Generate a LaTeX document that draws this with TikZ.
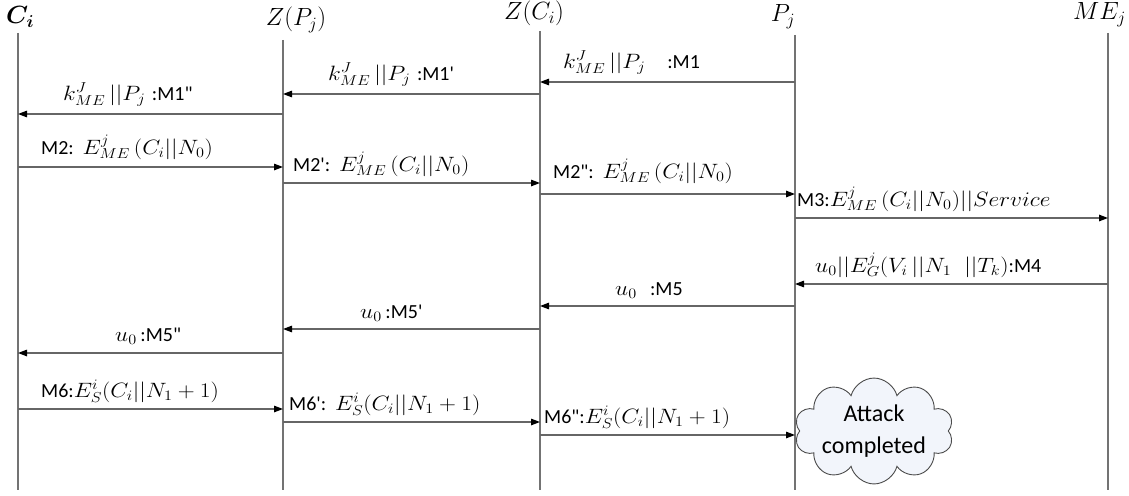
\documentclass[tikz,border=0pt]{standalone}
\usepackage[no-math]{fontspec}
\usepackage{bm}
\usepackage{graphicx}
\newfontfamily\calib{Carlito}
\usetikzlibrary{arrows.meta,shapes.symbols}
\definecolor{cloudfill}{RGB}{242,245,251}
\begin{document}
\begin{tikzpicture}[x=1pt,y=-1pt,
  life/.style={draw=black!55,line width=1.1pt},
  msg/.style={draw=black!60,line width=1.3pt,-{Triangle[length=9pt,width=6.5pt,black]}},
  head/.style={inner sep=0pt,font=\fontsize{23}{26}\selectfont},
  lab/.style={inner sep=0pt,anchor=base west,font=\fontsize{22}{26}\selectfont}]
\newcommand{\sm}[1]{{\calib\fontsize{20}{22}\selectfont #1}}
\newcommand{\mx}[1]{\scalebox{1.13}[1]{$#1$}}
\useasboundingbox (0,0) rectangle (1129,495);
% headers
\node[head,anchor=base west,font=\fontsize{26}{30}\selectfont] (hC) at (6,24) {$\bm{C_i}$};
\node[head,anchor=base] (hZP) at (296,26) {$Z(P_j)$};
\node[head,anchor=base] (hZC) at (534,20) {$Z(C_i)$};
\node[head,anchor=base] (hP) at (783,22) {$P_j$};
\node[head,anchor=base east] (hM) at (1126,20) {$ME_j$};
% lifeline ends
\coordinate (tC) at (18,33);   \coordinate (bC) at (18,490);
\coordinate (tZP) at (283,40); \coordinate (bZP) at (283,490);
\coordinate (tZC) at (540,31); \coordinate (bZC) at (540,490);
\coordinate (tP) at (795,35);  \coordinate (bP) at (795,490);
\coordinate (tM) at (1108,33); \coordinate (bM) at (1108,490);
\draw[life] (tC) -- (bC);
\draw[life] (tZP) -- (bZP);
\draw[life] (tZC) -- (bZC);
\draw[life] (tP) -- (bP);
\draw[life] (tM) -- (bM);
% messages
\draw[msg] (tP |- 0,82) -- (tZC |- 0,82);
\node[lab] (l1) at (563,68) {\mx{k^{J}_{ME}\,||P_j}\quad\sm{:M1}};
\draw[msg] (tZC |- 0,94) -- (tZP |- 0,94);
\node[lab] (l1a) at (328,80) {\mx{k^{J}_{ME}\,||P_j}\ \sm{:M1'}};
\draw[msg] (tZP |- 0,114) -- (tC |- 0,114);
\node[lab] (l1b) at (63,100) {\mx{k^{J}_{ME}\,||P_j}\ \sm{:M1"}};
\draw[msg] (tC |- 0,167) -- (tZP |- 0,167);
\node[lab] (l2) at (41,154) {\sm{M2:} \mx{E^{j}_{ME}\,(C_i||N_0)}};
\draw[msg] (tZP |- 0,183) -- (tZC |- 0,183);
\node[lab] (l2a) at (293,171) {\sm{M2':} \mx{E^{j}_{ME}\,(C_i||N_0)}};
\draw[msg] (tZC |- 0,194) -- (tP |- 0,194);
\node[lab] (l2b) at (553,178) {\sm{M2":} \mx{E^{j}_{ME}\,(C_i||N_0)}};
\draw[msg] (tP |- 0,218) -- (tM |- 0,218);
\node[lab] (l3) at (797,206) {\sm{M3:}\mx{E^{j}_{ME}\,(C_i||N_0)||Service}};
\draw[msg] (tM |- 0,284) -- (tP |- 0,284);
\node[lab] (l4) at (815,272) {\mx{u_0||E^{j}_{G}(V_i\,||N_1\;\;||T_k)}\sm{:M4}};
\draw[msg] (tP |- 0,306) -- (tZC |- 0,306);
\node[lab] (l5) at (615,295) {\mx{u_0}\ \ \sm{:M5}};
\draw[msg] (tZC |- 0,329) -- (tZP |- 0,329);
\node[lab] (l5a) at (360,318) {\mx{u_0}\,\sm{:M5'}};
\draw[msg] (tZP |- 0,353) -- (tC |- 0,353);
\node[lab] (l5b) at (115,341) {\mx{u_0}\,\sm{:M5"}};
\draw[msg] (tC |- 0,409) -- (tZP |- 0,409);
\node[lab] (l6) at (41,397) {\sm{M6:}\mx{E^{i}_{S}(C_i||N_1+1)}};
\draw[msg] (tZP |- 0,422) -- (tZC |- 0,422);
\node[lab] (l6a) at (289,410) {\sm{M6':} \mx{E^{i}_{S}(C_i||N_1+1)}};
\draw[msg] (tZC |- 0,435) -- (tP |- 0,435);
\node[lab] (l6b) at (544,423) {\sm{M6":}\mx{E^{i}_{S}(C_i||N_1+1)}};
% cloud
\node[cloud,cloud puffs=10,aspect=2.0,draw=black!70,line width=0.9pt,fill=cloudfill,
  minimum width=156pt,minimum height=80pt,align=center,inner sep=0pt,
  font=\calib\fontsize{24}{32}\selectfont] (cl) at (874,431) {Attack\\completed};
\end{tikzpicture}
\end{document}
